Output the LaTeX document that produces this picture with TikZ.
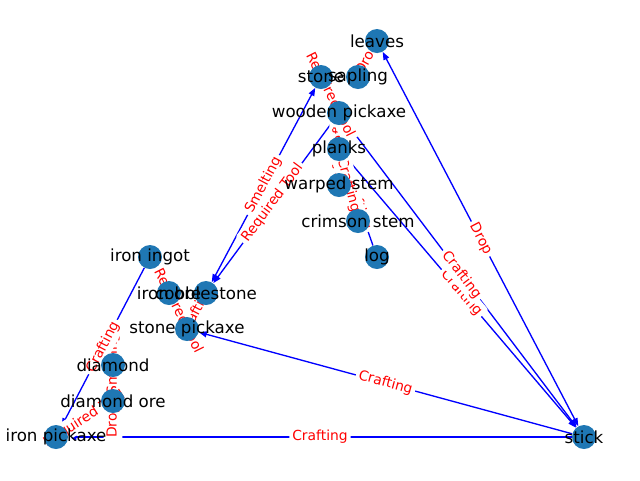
\documentclass[tikz,border=0pt]{standalone}
\usepackage{fontspec}
\setmainfont{DejaVu Sans}
\usetikzlibrary{arrows.meta}
\definecolor{nodeblue}{HTML}{1F77B4}
\pgfdeclarelayer{edgelayer}
\pgfdeclarelayer{labellayer}
\pgfdeclarelayer{textlayer}
\pgfsetlayers{edgelayer,labellayer,main,textlayer}
\tikzset{
  vert/.style={circle, fill=nodeblue, minimum size=18pt, inner sep=0pt},
  vname/.style={font=\fontsize{12.5}{14}\selectfont, text=black, inner sep=0pt},
  link/.style={draw=blue, line width=1pt, -{Triangle[length=6pt,width=4.5pt]}},
  biglink/.style={draw=blue, line width=1pt, {Triangle[length=6pt,width=4.5pt]}-{Triangle[length=6pt,width=4.5pt]}},
  elab/.style={font=\fontsize{10.4}{12}\selectfont, text=red, fill=white, rounded corners=2pt, inner sep=2.2pt, sloped, midway},
  flab/.style={font=\fontsize{10.4}{12}\selectfont, text=red, fill=white, rounded corners=2pt, inner sep=2.2pt, rotate=90},
}
\begin{document}
\begin{tikzpicture}[x=0.75pt,y=-0.75pt]
\useasboundingbox (0,0) rectangle (640,480);

% item nodes
\node[vert] (leaves)  at (377,41)  {};
\node[vert] (sapling) at (358,77)  {};
\node[vert] (stone)   at (321,77)  {};
\node[vert] (wpick)   at (339,113) {};
\node[vert] (planks)  at (339,149) {};
\node[vert] (warped)  at (339,185) {};
\node[vert] (crimson) at (358,221) {};
\node[vert] (log)     at (377,257) {};
\node[vert] (ingot)   at (150,257) {};
\node[vert] (ironore) at (169,293) {};
\node[vert] (cobble)  at (206,293) {};
\node[vert] (spick)   at (187,329) {};
\node[vert] (diamond) at (113,365) {};
\node[vert] (dore)    at (113,401) {};
\node[vert] (ipick)   at (56,437)  {};
\node[vert] (stick)   at (584,437) {};

% item names, above every disc
\begin{pgfonlayer}{textlayer}
\node[vname] at (leaves)  {leaves};
\node[vname] at (sapling) {sapling};
\node[vname] at (stone)   {stone};
\node[vname] at (wpick)   {wooden pickaxe};
\node[vname] at (planks)  {planks};
\node[vname] at (warped)  {warped stem};
\node[vname] at (crimson) {crimson stem};
\node[vname] at (log)     {log};
\node[vname] at (ingot)   {iron ingot};
\node[vname] at (ironore) {iron ore};
\node[vname] at (cobble)  {cobblestone};
\node[vname] at (spick)   {stone pickaxe};
\node[vname] at (diamond) {diamond};
\node[vname] at (dore)    {diamond ore};
\node[vname] at (ipick)   {iron pickaxe};
\node[vname] at (stick)   {stick};
\end{pgfonlayer}

% relations
\begin{pgfonlayer}{edgelayer}
\draw[link] (log) -- (planks);
\draw[link] (crimson) -- (planks);
\draw[link] (warped) -- (planks);
\draw[link] (planks) -- (stick);
\draw[link] (planks) -- (wpick);
\draw[link] (wpick) -- (stick);
\draw[link] (wpick) -- (stone);
\draw[biglink] (cobble) -- (stone);
\draw[link] (wpick) -- (cobble);
\draw[link] (cobble) -- (spick);
\draw[link] (stick) -- (spick);
\draw[link] (spick) -- (ironore);
\draw[link] (ironore) -- (ingot);
\draw[link] (ingot) -- (ipick);
\draw[link] (stick) -- (ipick);
\draw[link] (ipick) -- (dore);
\draw[link] (dore) -- (diamond);
\draw[biglink] (leaves) -- (stick);
\draw[link] (leaves) -- (sapling);
\end{pgfonlayer}

% relation names
\begin{pgfonlayer}{labellayer}
\node[flab] (smeltlab) at (113,364) {Smelting};
\node[flab] (droplab) at (113,421) {Drop};
\path (ironore) -- node[elab]{Smelting} (ingot);
\path (log) -- node[elab]{Crafting} (planks);
\path (warped) -- node[elab]{Crafting} (planks);
\path (crimson) -- node[elab]{Crafting} (planks);
\path (planks) -- node[elab]{Crafting} (stick);
\path (wpick) -- node[elab]{Crafting} (stick);
\path (planks) -- node[elab]{Crafting} (wpick);
\path (stone) -- node[elab]{Required Tool} (wpick);
\path (cobble) -- node[elab]{Smelting} (stone);
\path (wpick) -- node[elab]{Required Tool} (cobble);
\path (cobble) -- node[elab]{Crafting} (spick);
\path (spick) -- node[elab]{Required Tool} (ironore);
\path (stick) -- node[elab]{Crafting} (spick);
\path (ipick) -- node[elab]{Required Tool} (dore);
\path (ingot) -- node[elab]{Crafting} (ipick);
\path (ipick) -- node[elab]{Crafting} (stick);
\path (leaves) -- node[elab]{Drop} (stick);
\path (sapling) -- node[elab]{Drop} (leaves);
\end{pgfonlayer}
\end{tikzpicture}
\end{document}
